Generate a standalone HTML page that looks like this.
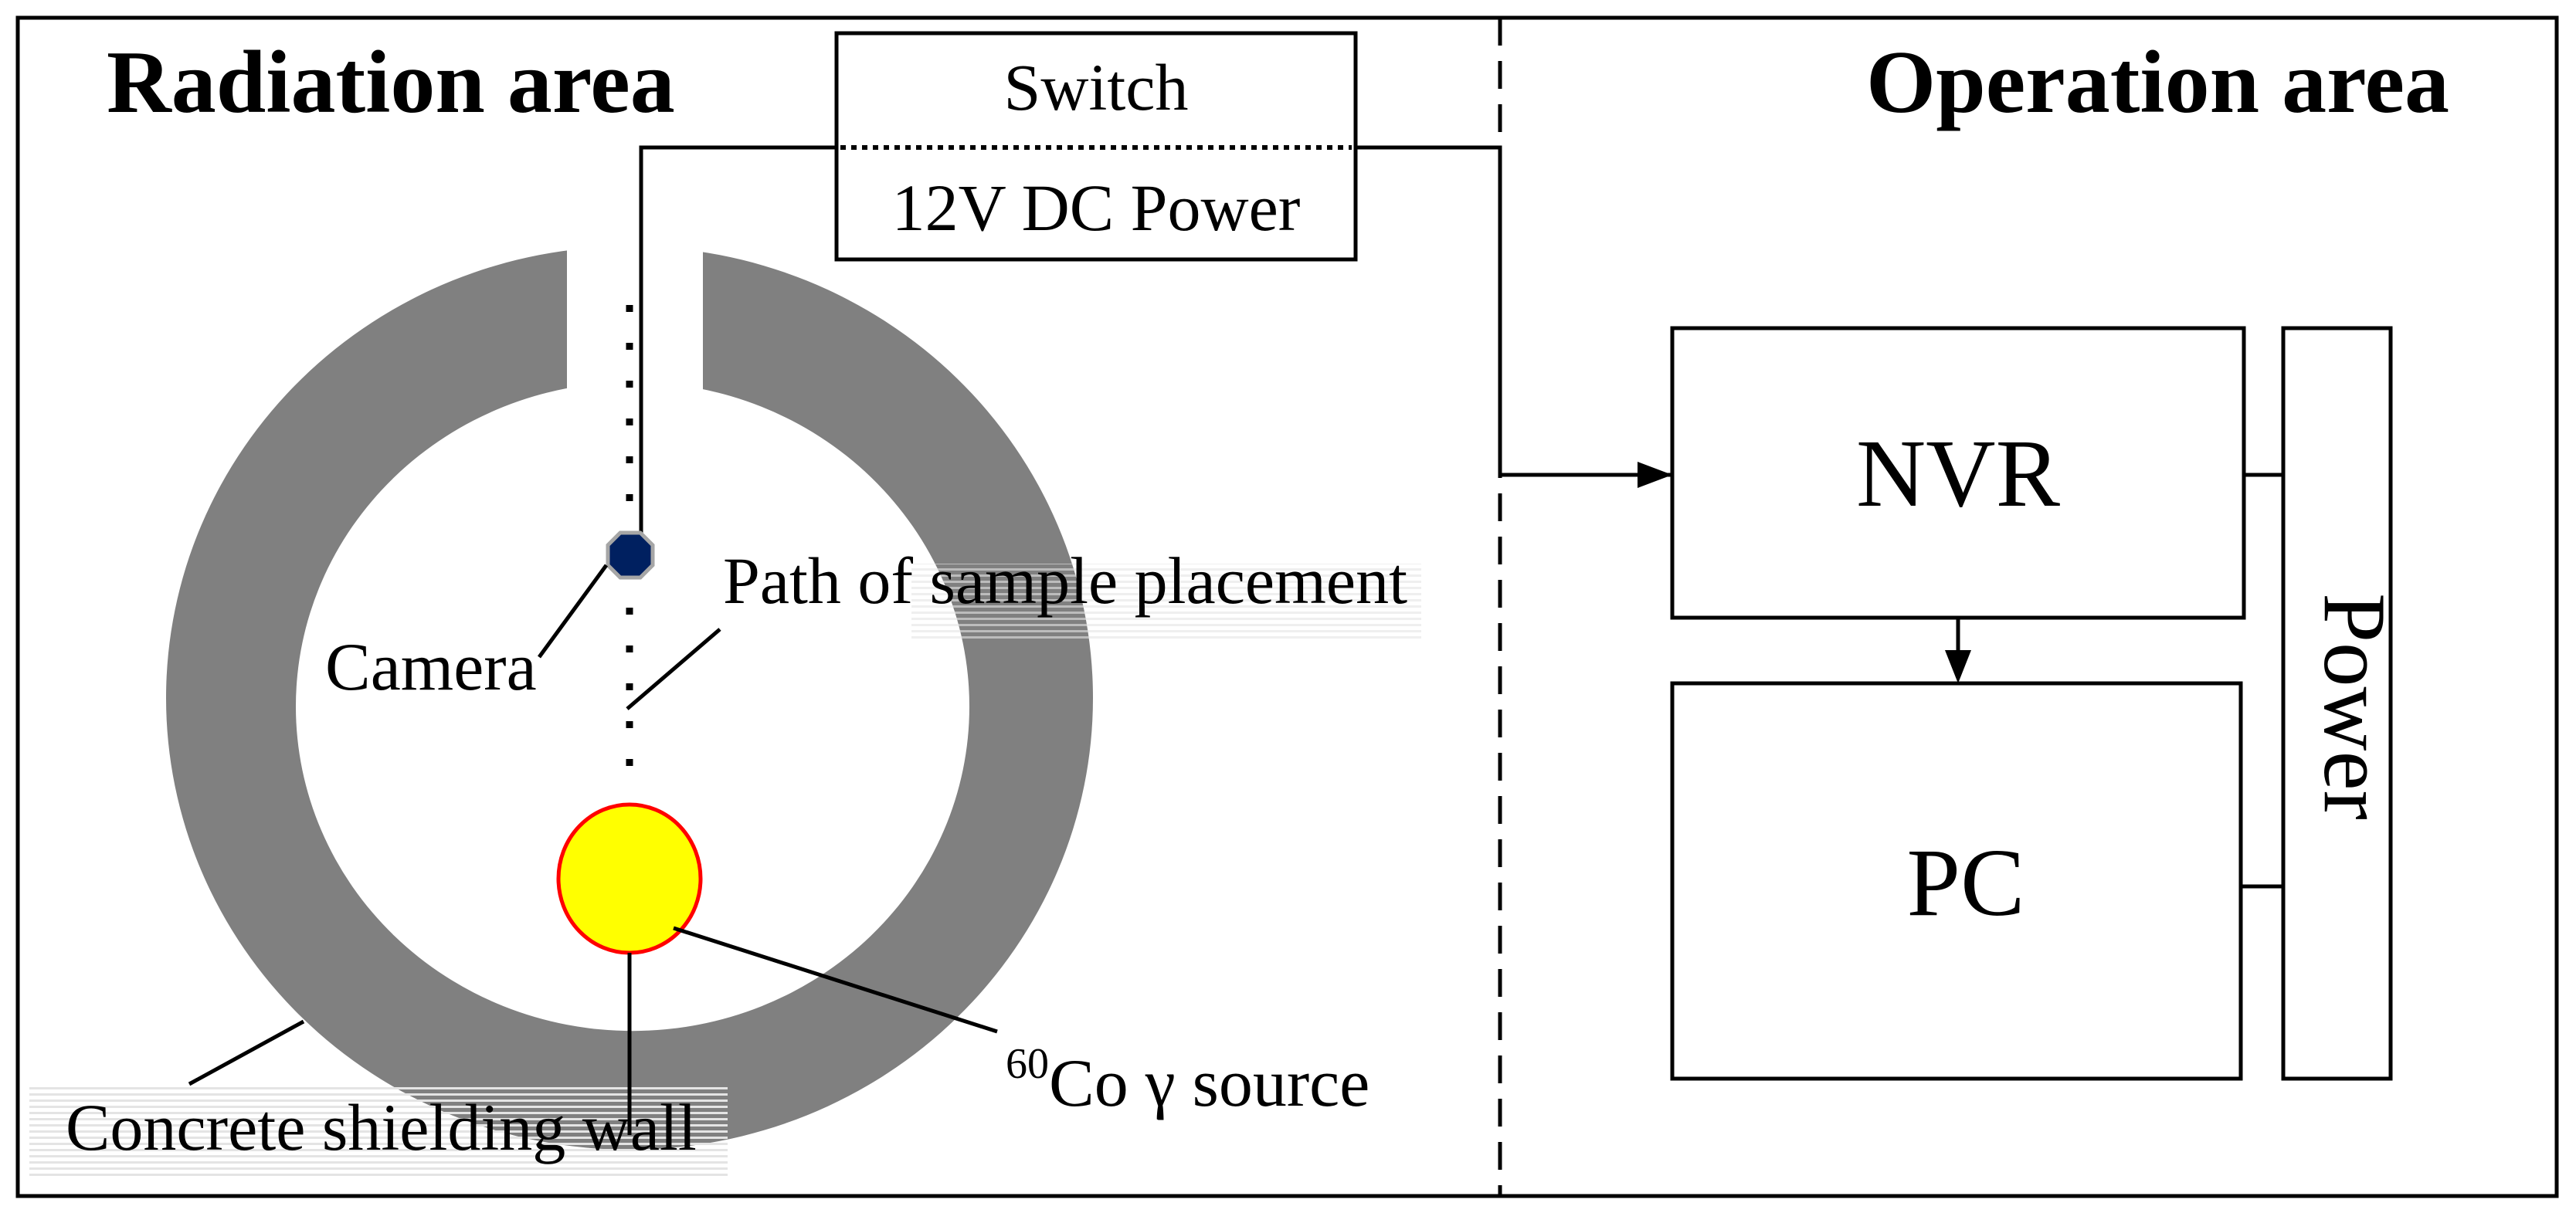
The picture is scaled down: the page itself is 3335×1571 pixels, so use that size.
<!DOCTYPE html>
<html><head><meta charset="utf-8"><style>html,body{margin:0;padding:0;background:#fff}svg{display:block}</style></head>
<body>
<svg width="3335" height="1571" viewBox="0 0 3335 1571" xmlns="http://www.w3.org/2000/svg" font-family="'Liberation Serif', serif">
<defs>
<pattern id="hatch" width="10" height="8" patternUnits="userSpaceOnUse"><rect width="10" height="3" fill="#e4e4e4"/></pattern>
<marker id="ar" markerWidth="10" markerHeight="8" refX="9" refY="4" orient="auto" markerUnits="userSpaceOnUse" viewBox="0 0 10 8"><path d="M0,0 L10,4 L0,8 z" fill="#000"/></marker>
</defs>
<rect x="0" y="0" width="3335" height="1571" fill="#fff"/>
<rect x="23" y="23" width="3287" height="1526" fill="none" stroke="#000" stroke-width="5"/>
<line x1="1942" y1="23" x2="1942" y2="1549" stroke="#000" stroke-width="5" stroke-dasharray="36,20"/>

<!-- ring -->
<path fill-rule="evenodd" fill="#808080" d="M215,904 a600,585 0 1,0 1200,0 a600,585 0 1,0 -1200,0 Z M383,915 a436,420 0 1,0 872,0 a436,420 0 1,0 -872,0 Z"/>
<rect x="734" y="300" width="176" height="330" fill="#fff"/>

<!-- hatched bg areas -->
<rect x="38" y="1404" width="904" height="123" fill="url(#hatch)"/>
<rect x="1180" y="730" width="660" height="100" fill="url(#hatch)" opacity="0.6"/>

<!-- dotted path -->
<line x1="815" y1="395" x2="815" y2="1000" stroke="#000" stroke-width="9" stroke-dasharray="9,40"/>

<!-- wires -->
<polyline points="830,700 830,191 1083,191" fill="none" stroke="#000" stroke-width="5"/>
<polyline points="1755,191 1942,191 1942,615" fill="none" stroke="#000" stroke-width="5"/>
<line x1="1942" y1="615" x2="2163" y2="615" stroke="#000" stroke-width="5" marker-end="url(#ar)" />
<path d="M2120,598 L2165,615 L2120,632 z" fill="#000"/>

<!-- switch box -->
<rect x="1083" y="43" width="672" height="293" fill="#fff" stroke="#000" stroke-width="5"/>
<line x1="1088" y1="191" x2="1750" y2="191" stroke="#000" stroke-width="6" stroke-dasharray="7,7"/>
<text x="1419" y="142" font-size="86" text-anchor="middle">Switch</text>
<text x="1419" y="298" font-size="86" text-anchor="middle">12V DC Power</text>

<!-- camera -->
<polygon points="803,690 829,690 845,706 845,732 829,748 803,748 787,732 787,706" fill="#002060" stroke="#a6a6a6" stroke-width="5"/>
<line x1="785" y1="732" x2="698" y2="851" stroke="#000" stroke-width="5"/>
<text x="421" y="893" font-size="88">Camera</text>
<line x1="932" y1="815" x2="812" y2="918" stroke="#000" stroke-width="5"/>
<text x="936" y="781" font-size="86">Path of sample placement</text>

<!-- source -->
<ellipse cx="815" cy="1138" rx="92" ry="96" fill="#ffff00" stroke="#ff0000" stroke-width="5"/>
<line x1="815" y1="1234" x2="815" y2="1470" stroke="#000" stroke-width="5"/>
<line x1="872" y1="1202" x2="1291" y2="1336" stroke="#000" stroke-width="5"/>
<text x="1302" y="1432" font-size="88"><tspan font-size="56" dy="-36">60</tspan><tspan dy="36">Co γ source</tspan></text>
<line x1="245" y1="1404" x2="393" y2="1323" stroke="#000" stroke-width="5"/>
<text x="85" y="1489" font-size="86">Concrete shielding wall</text>

<!-- titles -->
<text x="138" y="145" font-size="116" font-weight="bold">Radiation area</text>
<text x="2416" y="145" font-size="116" font-weight="bold">Operation area</text>

<!-- operation boxes -->
<rect x="2165" y="425" width="740" height="375" fill="#fff" stroke="#000" stroke-width="5"/>
<text x="2535" y="655" font-size="125" text-anchor="middle">NVR</text>
<rect x="2165" y="885" width="736" height="512" fill="#fff" stroke="#000" stroke-width="5"/>
<text x="2545" y="1185" font-size="125" text-anchor="middle">PC</text>
<rect x="2956" y="425" width="139" height="972" fill="#fff" stroke="#000" stroke-width="5"/>
<text transform="translate(3010,915) rotate(90)" font-size="115" text-anchor="middle">Power</text>
<line x1="2905" y1="615" x2="2956" y2="615" stroke="#000" stroke-width="5"/>
<line x1="2901" y1="1148" x2="2956" y2="1148" stroke="#000" stroke-width="5"/>
<line x1="2535" y1="800" x2="2535" y2="850" stroke="#000" stroke-width="5"/>
<path d="M2518,842 L2535,885 L2552,842 z" fill="#000"/>
</svg>
</body></html>
